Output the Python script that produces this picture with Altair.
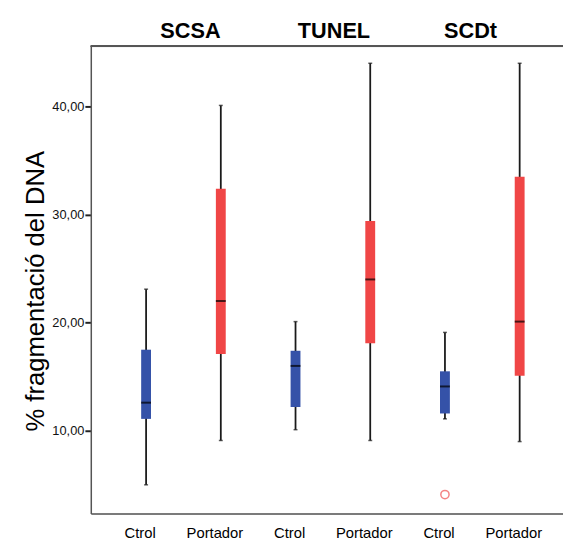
import altair as alt
import pandas as pd

methods = ["SCSA", "SCSA", "TUNEL", "TUNEL", "SCDt", "SCDt"]
groups = ["Ctrol", "Portador", "Ctrol", "Portador", "Ctrol", "Portador"]
whisker_lo = [5.0, 9.1, 10.1, 9.1, 11.1, 9.0]
q1 = [11.1, 17.1, 12.2, 18.1, 11.6, 15.1]
median = [12.6, 22.0, 16.0, 24.0, 14.1, 20.1]
q3 = [17.5, 32.4, 17.4, 29.4, 15.5, 33.5]
whisker_hi = [23.1, 40.1, 20.1, 44.0, 19.1, 44.0]

outlier_method = ["SCDt"]
outlier_group = ["Ctrol"]
outlier_value = [4.1]

title_names = ["SCSA", "TUNEL", "SCDt"]

keys = [f"{m}|{g}" for m, g in zip(methods, groups)]
df = pd.DataFrame({
    "key": keys, "group": groups, "lo": whisker_lo, "q1": q1,
    "med": median, "q3": q3, "hi": whisker_hi,
})
out_df = pd.DataFrame({
    "key": [f"{m}|{g}" for m, g in zip(outlier_method, outlier_group)],
    "group": outlier_group, "value": outlier_value,
})

W, H = 479, 474
FONT = "Liberation Sans"

xscale = alt.Scale(domain=keys, paddingInner=0, paddingOuter=0.16, align=0.75)
yscale = alt.Scale(domain=[2.34, 45.57], nice=False, zero=False)
color = alt.Scale(domain=["Ctrol", "Portador"], range=["#3552a8", "#f04646"])

x_axis = alt.Axis(
    title=None, labelExpr="split(datum.value, '|')[1]", labelAngle=0,
    labelFont=FONT, labelFontSize=15, labelColor="#000", labelPadding=24,
    labelBaseline="alphabetic",
    labelOffset=-6, ticks=False, domainColor="#555",
    domainWidth=1.5, grid=False,
)
y_axis = alt.Axis(
    title="% fragmentació del DNA", titleFont=FONT, titleFontSize=26,
    titleFontWeight="normal", titleColor="#000", titlePadding=3,
    titleY=248,
    values=[10, 20, 30, 40],
    labelExpr="replace(format(datum.value, '.2f'), '.', ',')",
    labelFont=FONT, labelFontSize=13, labelColor="#111", labelPadding=1,
    tickSize=6, tickWidth=2, tickColor="#222", domainColor="#555",
    domainWidth=1.5, grid=False,
)

base = alt.Chart(df)
X = alt.X("key:N", scale=xscale, axis=x_axis, sort=keys)

whiskers = base.mark_rule(color="#1a1a1a", strokeWidth=1.8).encode(
    x=X, y=alt.Y("lo:Q", scale=yscale, axis=y_axis), y2="hi:Q"
)
caps_lo = base.mark_tick(color="#1a1a1a", thickness=1.5, size=4, orient="horizontal").encode(
    x=X, y=alt.Y("lo:Q", scale=yscale)
)
caps_hi = base.mark_tick(color="#1a1a1a", thickness=1.5, size=4, orient="horizontal").encode(
    x=X, y=alt.Y("hi:Q", scale=yscale)
)
boxes = base.mark_bar(size=10).encode(
    x=X, y=alt.Y("q1:Q", scale=yscale), y2="q3:Q",
    color=alt.Color("group:N", scale=color, legend=None),
)
medians = base.mark_tick(color="#000", thickness=2, size=10, orient="horizontal").encode(
    x=X, y=alt.Y("med:Q", scale=yscale)
)
outliers = alt.Chart(out_df).mark_point(
    shape="circle", filled=False, size=70, strokeWidth=1.5, color="#f05050"
).encode(x=alt.X("key:N", scale=xscale, sort=keys), y=alt.Y("value:Q", scale=yscale))

frame_top = alt.Chart(df).mark_rule(color="#555", strokeWidth=1.5).encode(
    x=alt.value(0), x2=alt.value(W), y=alt.value(0)
)

title_dx = [45, 39, 26]
titles = []
for name, dx in zip(title_names, title_dx):
    tdf = pd.DataFrame({"key": [f"{name}|Ctrol"], "name": [name]})
    titles.append(
        alt.Chart(tdf).mark_text(
            font=FONT, fontSize=22, fontWeight="bold", color="#000",
            dx=dx, baseline="middle", align="center",
        ).encode(x=alt.X("key:N", scale=xscale, sort=keys), y=alt.value(-15), text="name:N")
    )

chart = alt.layer(
    frame_top, whiskers, caps_lo, caps_hi, boxes, medians, outliers, *titles
).properties(
    width=W, height=H,
    autosize=alt.AutoSizeParams(type="none"),
    padding={"left": 84, "top": 35, "right": 0, "bottom": 25},
).configure_view(stroke=None).configure(background="white")

chart.save("out.html", embed_options={"renderer": "svg", "actions": False})
